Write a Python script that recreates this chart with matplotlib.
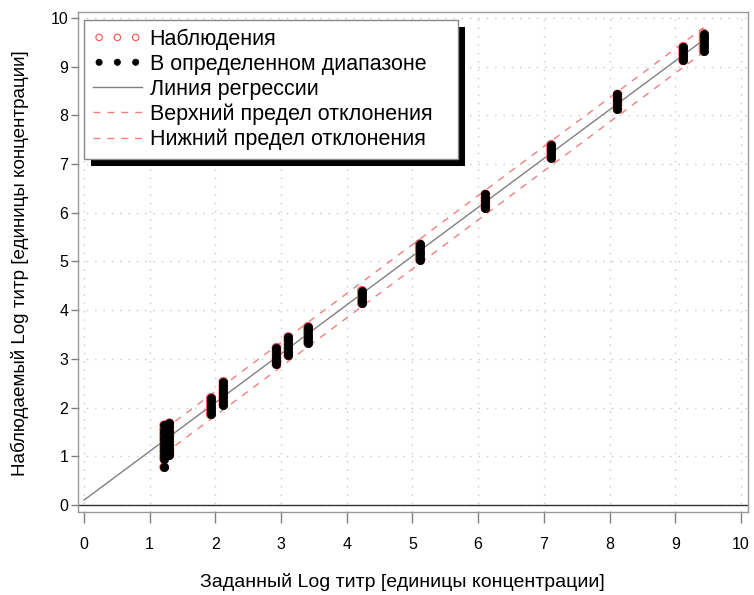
import matplotlib
matplotlib.use("Agg")
import matplotlib.pyplot as plt
from matplotlib.patches import Rectangle
import numpy as np

plt.rcParams['font.family'] = ['Liberation Sans', 'DejaVu Sans']

# Data: nominal levels and observed values per level
x_levels = [1.22, 1.30, 1.93, 2.12, 2.93, 3.11, 3.41, 4.23, 5.11, 6.11, 7.11, 8.12, 9.12, 9.43]
obs_values = [
    [1.64, 1.55, 1.47, 1.40, 1.33, 1.25, 1.18, 1.10, 1.02, 0.95, 0.78],
    [1.68, 1.60, 1.52, 1.45, 1.38, 1.30, 1.22, 1.15, 1.08, 1.03],
    [2.20, 2.13, 2.06, 1.99, 1.92, 1.86],
    [2.53, 2.45, 2.37, 2.29, 2.21, 2.13, 2.06],
    [3.23, 3.16, 3.09, 3.02, 2.95, 2.90],
    [3.45, 3.38, 3.30, 3.22, 3.14, 3.07],
    [3.66, 3.59, 3.52, 3.45, 3.38, 3.33],
    [4.40, 4.33, 4.26, 4.19, 4.14],
    [5.36, 5.29, 5.22, 5.15, 5.08, 5.04],
    [6.38, 6.31, 6.24, 6.17, 6.10],
    [7.40, 7.33, 7.26, 7.19, 7.13],
    [8.43, 8.36, 8.29, 8.22, 8.13],
    [9.41, 9.34, 9.27, 9.20, 9.13],
    [9.68, 9.61, 9.54, 9.47, 9.40, 9.32],
]
reg_x = [0.0, 9.43]
reg_y = [0.10, 9.55]
upper_x = [1.22, 9.43]
upper_y = [1.55, 9.80]
lower_x = [1.22, 9.43]
lower_y = [1.05, 9.30]

ticks = list(range(0, 11))
xlabel = "Заданный Log титр [единицы концентрации]"
ylabel = "Наблюдаемый Log титр [единицы концентрации]"
legend_labels = ["Наблюдения", "В определенном диапазоне", "Линия регрессии",
                 "Верхний предел отклонения", "Нижний предел отклонения"]

xs = [x for x, vals in zip(x_levels, obs_values) for _ in vals]
ys = [v for vals in obs_values for v in vals]

W, H = 754, 595
fig = plt.figure(figsize=(W/100, H/100), dpi=100)
ax = fig.add_axes([78/W, 1 - 512/H, (748-78)/W, (512-12)/H])

ax.set_xlim(-0.091, 10.107)
ax.set_ylim(-0.144, 10.123)

grid_kw = dict(color='#c8c8c8', linestyle=(0, (1, 5)), linewidth=1.0, zorder=0)
for t in ticks:
    ax.axvline(t, **grid_kw)
    ax.axhline(t, **grid_kw)
ax.axhline(0, color='#333333', linewidth=1.0, zorder=1)

red = '#f08080'
h_obs = ax.scatter(xs, ys, s=38, facecolors='none', edgecolors='#ff5050', linewidths=0.8, zorder=3)
h_in = ax.scatter(xs, ys, s=36, color='black', edgecolors='black', linewidths=0.5, zorder=4)
h_reg, = ax.plot(reg_x, reg_y, color='#808080', linewidth=1.0, zorder=2)
h_up, = ax.plot(upper_x, upper_y, color=red, linewidth=1.0, dashes=(5, 5), zorder=2)
h_lo, = ax.plot(lower_x, lower_y, color=red, linewidth=1.0, dashes=(5, 5), zorder=2)

ax.set_xticks(ticks)
ax.set_yticks(ticks)
ax.tick_params(axis='both', direction='out', colors='#808080', labelcolor='black',
               labelsize=11.5, length=6, width=1.0)
ax.tick_params(axis='x', pad=10, length=8)
ax.tick_params(axis='y', pad=2, length=5)
for s in ax.spines.values():
    s.set_color('#999999')
    s.set_linewidth(1.0)

fig.text(402/W, 1 - 582/H, xlabel, fontsize=14, ha='center', va='center')
fig.text(20/W, 1 - 263/H, ylabel, fontsize=13.6, ha='center', va='center', rotation=90)

# legend handles with scatterpoints
leg = ax.legend([h_obs, h_in, h_reg, h_up, h_lo], legend_labels,
                loc='upper left', bbox_to_anchor=(6/670, 1 - 8/500), scatterpoints=3,
                scatteryoffsets=[0.5],
                fontsize=15.5, frameon=False, borderaxespad=0,
                handlelength=2.3, handletextpad=0.35, labelspacing=0.18,
                borderpad=0.4, markerscale=0.75)
leg.set_zorder(10)

fig.canvas.draw()
bb = leg.get_window_extent()
extra = 17
off = 7
shadow = Rectangle((bb.x0 + off, bb.y0 - off), bb.width + extra, bb.height, transform=None,
                   facecolor='black', edgecolor='none', zorder=8)
frame = Rectangle((bb.x0, bb.y0), bb.width + extra, bb.height, transform=None,
                  facecolor='white', edgecolor='#888888', linewidth=1.0, zorder=9)
ax.add_artist(shadow)
ax.add_artist(frame)

fig.savefig("out.png", dpi=100)
